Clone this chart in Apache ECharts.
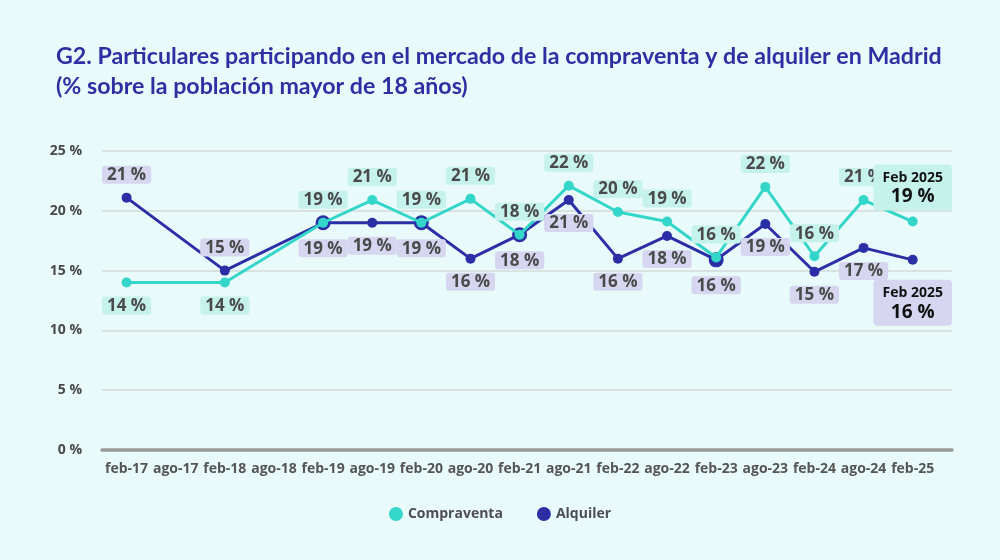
<!DOCTYPE html>
<html>
<head>
<meta charset="utf-8">
<script src="https://cdn.jsdelivr.net/npm/echarts@6/dist/echarts.min.js"></script>
<style>
html,body{margin:0;padding:0;background:#e9fafa;}
#c{width:1000px;height:560px;}
</style>
</head>
<body>
<div id="c"></div>
<script>
const categories = ['feb-17','ago-17','feb-18','ago-18','feb-19','ago-19','feb-20','ago-20','feb-21','ago-21','feb-22','ago-22','feb-23','ago-23','feb-24','ago-24','feb-25'];
const compraventa = [14, null, 14, null, 19, 20.9, 19, 21, 18, 22.1, 19.9, 19.1, 16.1, 22, 16.2, 20.9, 19.1];
const alquiler = [21.1, null, 15, null, 19, 19, 19, 16, 18, 20.9, 16, 17.9, 15.9, 18.9, 14.9, 16.9, 15.9];
const yTicks = [0, 5, 10, 15, 20, 25];
const lastLabel = 'Feb 2025';

const TEAL = '#33d6c8', NAVY = '#2b2fa6';
const TEAL_BG = '#c6f2ec', NAVY_BG = '#d6d6f0';
const lastIdx = categories.length - 1;

function buildData(vals, bg, belowIdx, above, big) {
  const out = [];
  vals.forEach((v, i) => {
    if (v === null) return;
    const item = { value: [i, v] };
    if (i === lastIdx) {
      item.label = {
        show: true,
        position: above ? 'top' : 'bottom',
        distance: above ? 6 : 15,
        backgroundColor: bg,
        borderRadius: 4,
        padding: [5, 9, 3, 9],
        formatter: '{a|' + lastLabel + '}\n{b|' + Math.round(v) + ' %}',
        rich: {
          a: { fontFamily: 'Open Sans', fontWeight: 'bold', fontSize: 14, color: '#111', lineHeight: 17, align: 'center' },
          b: { fontFamily: 'Open Sans', fontWeight: 'bold', fontSize: 19, color: '#111', lineHeight: 21, align: 'center' }
        }
      };
    } else {
      item.label = { position: belowIdx(i) ? 'bottom' : 'top' };
    }
    if (big) {
      const o = compraventa[i];
      if (o !== null && Math.abs(o - v) < 0.5) item.symbolSize = 15;
    }
    out.push(item);
  });
  return out;
}

const labelBase = (bg) => ({
  show: true,
  distance: 9,
  backgroundColor: bg,
  borderRadius: 3,
  padding: [1, 5, 0, 5],
  fontFamily: 'Open Sans',
  fontWeight: 'bold',
  fontSize: 17,
  color: '#4a4a4a',
  formatter: p => Math.round(p.value[1]) + ' %'
});

const chart = echarts.init(document.getElementById('c'));
chart.setOption({
  backgroundColor: '#e9fafa',
  animation: false,
  title: {
    text: 'G2. Particulares participando en el mercado de la compraventa y de alquiler en Madrid\n(% sobre la población mayor de 18 años)',
    left: 51, top: 37,
    textStyle: { fontFamily: 'Lato', fontWeight: 'bold', fontSize: 23.2, color: '#2c30a2', lineHeight: 30 }
  },
  legend: {
    bottom: 34, left: 'center',
    icon: 'circle', itemWidth: 14, itemHeight: 14, itemGap: 34,
    data: ['Compraventa', 'Alquiler'],
    textStyle: { fontFamily: 'Open Sans', fontWeight: 'bold', fontSize: 14, color: '#4d4d55' }
  },
  grid: { left: 102, right: 48, top: 151, bottom: 110 },
  xAxis: {
    type: 'value',
    min: -0.5, max: 16.8, interval: 0.5,
    splitLine: { show: false },
    axisLine: { onZero: false, lineStyle: { color: '#999', width: 3.5 } },
    axisTick: { show: false },
    axisLabel: {
      showMinLabel: true, showMaxLabel: true, hideOverlap: false,
      margin: 12, fontFamily: 'Open Sans', fontWeight: 'bold', fontSize: 14, color: '#555',
      formatter: v => (Number.isInteger(v) && categories[v]) ? categories[v] : ''
    }
  },
  yAxis: {
    type: 'value',
    min: yTicks[0], max: yTicks[yTicks.length - 1], interval: 5,
    axisLine: { show: false }, axisTick: { show: false },
    splitLine: { lineStyle: { color: '#d4d8d8', width: 1.5 } },
    axisLabel: { margin: 20, fontFamily: 'Open Sans', fontWeight: 'bold', fontSize: 14, color: '#4a4a4a', formatter: '{value} %' }
  },
  series: [
    {
      name: 'Alquiler', type: 'line', z: 2,
      symbol: 'circle', symbolSize: 10,
      itemStyle: { color: NAVY },
      lineStyle: { color: NAVY, width: 3 },
      label: labelBase(NAVY_BG),
      data: buildData(alquiler, NAVY_BG, i => i > 2, false, true)
    },
    {
      name: 'Compraventa', type: 'line', z: 3,
      symbol: 'circle', symbolSize: 10,
      itemStyle: { color: TEAL },
      lineStyle: { color: TEAL, width: 3 },
      label: labelBase(TEAL_BG),
      data: buildData(compraventa, TEAL_BG, i => i <= 2, true, false)
    }
  ]
});
</script>
</body>
</html>
